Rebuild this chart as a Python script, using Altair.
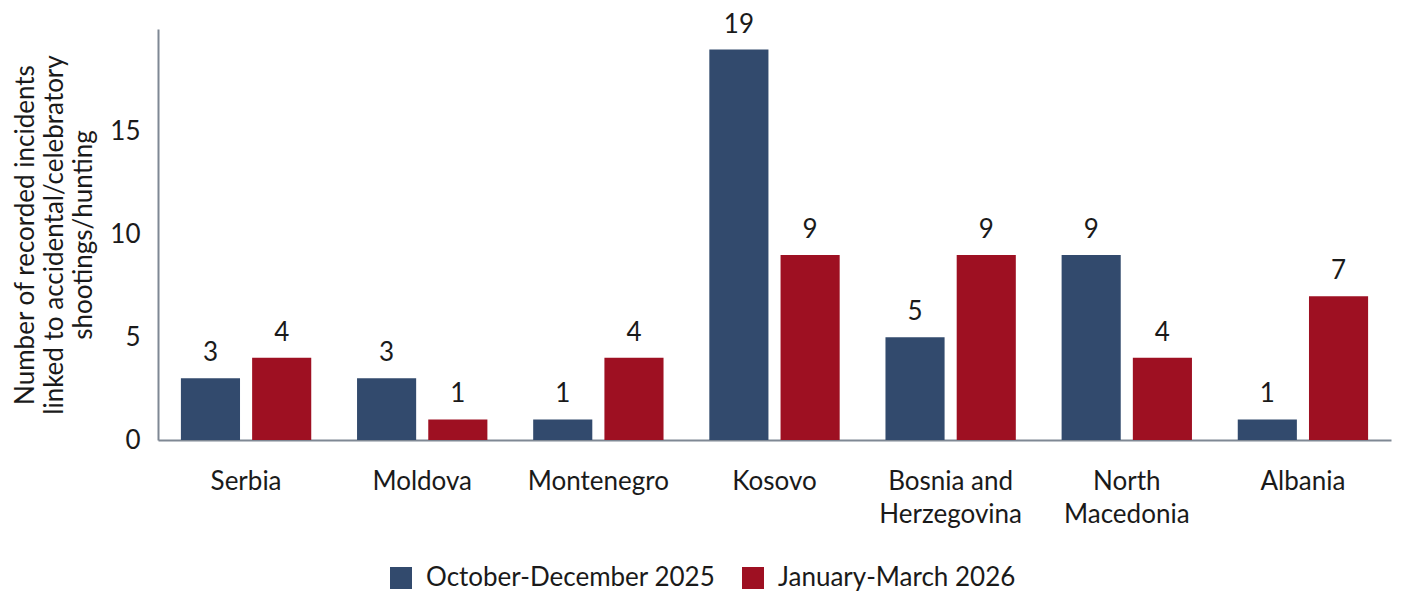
import altair as alt
import pandas as pd

countries = ["Serbia", "Moldova", "Montenegro", "Kosovo", "Bosnia and Herzegovina", "North Macedonia", "Albania"]
series = ["October-December 2025", "January-March 2026"]
oct_dec_2025 = [3, 3, 1, 19, 5, 9, 1]
jan_mar_2026 = [4, 1, 4, 9, 9, 4, 7]
colors = ["#324a6d", "#9e1022"]

rows = []
for i, c in enumerate(countries):
    rows.append({"country": c, "period": series[0], "value": oct_dec_2025[i]})
    rows.append({"country": c, "period": series[1], "value": jan_mar_2026[i]})
df = pd.DataFrame(rows)

FONT = "Lato"
FS = 26
label_expr = ("datum.label == 'Bosnia and Herzegovina' ? ['Bosnia and', 'Herzegovina'] : "
              "datum.label == 'North Macedonia' ? ['North', 'Macedonia'] : datum.label")

x = alt.X("country:N", sort=countries,
          scale=alt.Scale(paddingInner=0.26, paddingOuter=0.13),
          axis=alt.Axis(title=None, labelAngle=0, ticks=False, labelPadding=28,
                        labelExpr=label_expr, labelFontSize=FS, labelLineHeight=33,
                        labelColor="#1a1a1a", labelFont=FONT,
                        domainColor="#7f8894", domainWidth=2))
xo = alt.XOffset("period:N", sort=series, scale=alt.Scale(paddingInner=0.17, paddingOuter=0))
y = alt.Y("value:Q", scale=alt.Scale(domain=[0, 20], nice=False),
          axis=alt.Axis(title=["Number of recorded incidents", "linked to accidental/celebratory", "shootings/hunting"],
                        values=[0, 5, 10, 15], grid=False, ticks=False, labelPadding=18,
                        labelFontSize=FS, labelColor="#1a1a1a", labelFont=FONT,
                        titleFontSize=FS, titleFontWeight="normal", titleFont=FONT,
                        titleColor="#1a1a1a", titleLineHeight=29, titlePadding=13,
                        domainColor="#7f8894", domainWidth=2))
color = alt.Color("period:N", sort=series,
                  scale=alt.Scale(domain=series, range=colors),
                  legend=alt.Legend(title=None, orient="none", direction="horizontal",
                                    legendX=230, legendY=536,
                                    symbolType="square", symbolSize=484, symbolStrokeWidth=0,
                                    labelFontSize=FS, labelFont=FONT, labelColor="#1a1a1a",
                                    labelLimit=0, labelOffset=12, columnPadding=24))

base = alt.Chart(df).encode(x=x, xOffset=xo, y=y)
bars = base.mark_bar().encode(color=color)
text = base.mark_text(baseline="alphabetic", dy=-17, fontSize=FS, font=FONT, color="#1a1a1a").encode(
    text=alt.Text("value:Q"))

chart = (bars + text).properties(
    width=1233, height=411,
    autosize=alt.AutoSizeParams(type="none"),
    padding={"left": 150, "top": 21, "right": 2, "bottom": 152},
).configure(font=FONT).configure_view(stroke=None)

chart.save("out.html", embed_options={"renderer": "svg", "actions": False})
